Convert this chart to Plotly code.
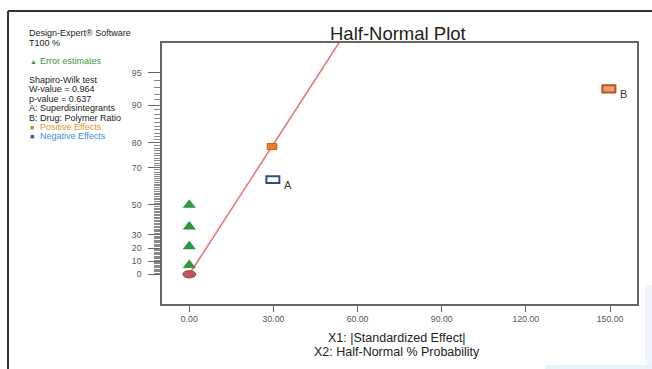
from statistics import NormalDist
import plotly.graph_objects as go

# ---- data -------------------------------------------------------------
# half-normal % probability of each ranked effect and its |standardized effect|
error_x = [0.0, 0.0, 0.0, 0.0]
error_pct = [7.14, 21.43, 35.71, 50.0]

origin_x = [0.0]
origin_pct = [0.0]

pos_x = [29.5, 149.6]          # positive effects (interaction, B)
pos_pct = [78.57, 92.86]
pos_names = ["", "B"]

neg_x = [29.8]                 # negative effects (A)
neg_pct = [64.29]
neg_names = ["A"]

fit_x = [0.0, 60.0]            # half-normal reference line
fit_pct = [0.0, 98.86]

y_tick_pct = [0, 10, 20, 30, 50, 70, 80, 90, 95]
y_minor_pct = list(range(0, 96))
x_tick_vals = [0, 30, 60, 90, 120, 150]
x_tick_text = ["0.00", "30.00", "60.00", "90.00", "120.00", "150.00"]

legend_lines = ["Shapiro-Wilk test", "W-value = 0.964", "p-value = 0.637",
                "A: Superdisintegrants", "B: Drug: Polymer Ratio"]

# ---- half-normal probability scale -------------------------------------
ND = NormalDist()


def hn(p):
    """percent -> half-normal quantile"""
    return ND.inv_cdf(0.5 + p / 200.0) if p > 0 else 0.0


FONT = "Liberation Sans, Arial, sans-serif"
W, H = 652, 369
L, R, T, B = 162, 637, 43, 304


def paper_x(px):
    return (px - L) / (R - L)


def paper_y(py):
    return (B - py) / (B - T)


fig = go.Figure()

# reference line
fig.add_trace(go.Scatter(
    x=fit_x, y=[hn(p) for p in fit_pct], mode="lines",
    line=dict(color="#e5787c", width=1.6), hoverinfo="skip"))

# error estimates
fig.add_trace(go.Scatter(
    x=error_x, y=[hn(p) for p in error_pct], mode="markers",
    marker=dict(symbol="triangle-up", size=10.5, color="#2f9a3b",
                line=dict(width=0.5, color="#237a2c"))))

shapes = []
# origin marker (ellipse)
for xv, pv in zip(origin_x, origin_pct):
    shapes.append(dict(type="circle", xref="x", yref="y",
                       xsizemode="pixel", ysizemode="pixel",
                       xanchor=xv, yanchor=hn(pv),
                       x0=-6.5, x1=6.5, y0=-3.6, y1=3.6,
                       fillcolor="#c25560", line=dict(color="#9a3a44", width=1)))

# positive effects
for i, (xv, pv) in enumerate(zip(pos_x, pos_pct)):
    big = bool(pos_names[i])
    hw, hh = (6.5, 3.6) if big else (4.8, 3)
    shapes.append(dict(type="rect", xref="x", yref="y",
                       xsizemode="pixel", ysizemode="pixel",
                       xanchor=xv, yanchor=hn(pv),
                       x0=-hw, x1=hw, y0=-hh, y1=hh,
                       fillcolor="#f0a070" if big else "#f07d22",
                       line=dict(color="#b8541e" if big else "#c0621e",
                                 width=2 if big else 1)))

# negative effects
for xv, pv in zip(neg_x, neg_pct):
    shapes.append(dict(type="rect", xref="x", yref="y",
                       xsizemode="pixel", ysizemode="pixel",
                       xanchor=xv, yanchor=hn(pv),
                       x0=-6.5, x1=6.5, y0=-3.3, y1=3.3,
                       fillcolor="white", line=dict(color="#2d4b94", width=2)))

# outer frame and faint background tint at the lower right
shapes += [
    dict(type="rect", xref="paper", yref="paper", layer="below",
         x0=paper_x(645), x1=paper_x(652), y0=paper_y(369), y1=paper_y(285),
         fillcolor="#eef5fc", line=dict(width=0)),
    dict(type="rect", xref="paper", yref="paper", layer="below",
         x0=paper_x(545), x1=paper_x(652), y0=paper_y(369), y1=paper_y(365),
         fillcolor="#e8f3fb", line=dict(width=0)),
    dict(type="line", xref="paper", yref="paper",
         x0=paper_x(8), x1=paper_x(8), y0=paper_y(369), y1=paper_y(11),
         line=dict(color="#333", width=2)),
    dict(type="line", xref="paper", yref="paper",
         x0=paper_x(8), x1=paper_x(652), y0=paper_y(11), y1=paper_y(11),
         line=dict(color="#333", width=2)),
]

annotations = []
# effect labels
for xv, pv, name in list(zip(pos_x, pos_pct, pos_names)) + list(zip(neg_x, neg_pct, neg_names)):
    if name:
        annotations.append(dict(x=xv, y=hn(pv), xref="x", yref="y", text=name,
                                showarrow=False, xanchor="left", yanchor="middle",
                                xshift=9, yshift=-5,
                                font=dict(family=FONT, size=11, color="#333")))


# side panel text
def side(text, py, color="#222", x=28, size=9):
    annotations.append(dict(x=paper_x(x), y=paper_y(py), xref="paper", yref="paper",
                            text=text, showarrow=False, xanchor="left",
                            yanchor="middle", borderpad=0,
                            font=dict(family=FONT, size=size, color=color)))


side("Design-Expert® Software", 33)
side("T100 %", 42.7)
side("▲", 61, color="#2f9a3b", x=29, size=7)
side("Error estimates", 61, color="#3a9a3a", x=39)
for k, line in enumerate(legend_lines):
    side(line, 80 + k * 9.4)
side("■", 127, color="#e07a28", x=29, size=7)
side("Positive Effects", 127, color="#e8982e", x=39)
side("■", 136.4, color="#2d5aa8", x=29, size=7)
side("Negative Effects", 136.4, color="#3a90d8", x=39)

# title and axis title lines
annotations.append(dict(x=paper_x(398), y=paper_y(33.5), xref="paper", yref="paper",
                        text="Half-Normal Plot", showarrow=False,
                        xanchor="center", yanchor="middle",
                        font=dict(family=FONT, size=18.5, color="#222")))
annotations.append(dict(x=paper_x(397), y=paper_y(337.5), xref="paper", yref="paper",
                        text="X1: |Standardized Effect|", showarrow=False,
                        xanchor="center", yanchor="middle", borderpad=0,
                        font=dict(family=FONT, size=12.5, color="#222")))
annotations.append(dict(x=paper_x(397), y=paper_y(351.5), xref="paper", yref="paper",
                        text="X2: Half-Normal % Probability", showarrow=False,
                        xanchor="center", yanchor="middle", borderpad=0,
                        font=dict(family=FONT, size=12.5, color="#222")))

x_px_per_unit = (610 - 189.3) / 150.0
y_px_per_unit = (274.3 - 72.7) / hn(95)

fig.update_layout(
    width=W, height=H,
    margin=dict(l=L, r=W - R, t=T, b=H - B, pad=0),
    paper_bgcolor="white", plot_bgcolor="white",
    showlegend=False,
    shapes=shapes, annotations=annotations,
    xaxis=dict(
        range=[(L - 189.3) / x_px_per_unit, (R - 189.3) / x_px_per_unit],
        tickvals=x_tick_vals, ticktext=x_tick_text,
        ticks="outside", ticklen=6, tickwidth=1.2, tickcolor="#666",
        tickfont=dict(family=FONT, size=8.7, color="#555"),
        showline=True, linecolor="#666", linewidth=1.5, mirror=True,
        showgrid=False, zeroline=False, fixedrange=True),
    yaxis=dict(
        range=[(274.3 - B) / y_px_per_unit, (274.3 - T) / y_px_per_unit],
        tickvals=[hn(p) for p in y_tick_pct], ticktext=[str(p) for p in y_tick_pct],
        ticks="outside", ticklen=12, tickwidth=1.2, tickcolor="#666",
        ticklabelstandoff=5,
        tickfont=dict(family=FONT, size=8.7, color="#555"),
        minor=dict(tickvals=[hn(p) for p in y_minor_pct], ticks="outside",
                   ticklen=6, tickwidth=1, tickcolor="#888"),
        showline=True, linecolor="#666", linewidth=1.5, mirror=True,
        showgrid=False, zeroline=False, fixedrange=True),
)

fig.write_html("out.html")
